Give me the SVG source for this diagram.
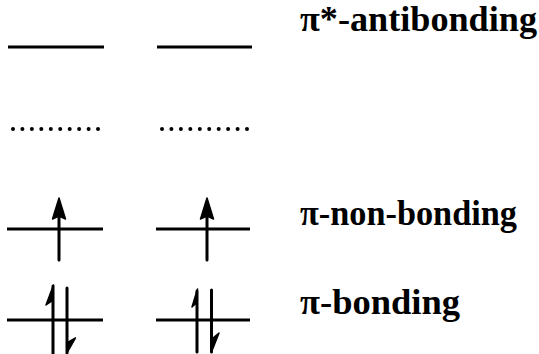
<svg xmlns="http://www.w3.org/2000/svg" width="539" height="354" viewBox="0 0 539 354">
<style>
.lvl{stroke:#000;stroke-width:3;fill:none}
.shaft{stroke:#000;stroke-width:3;fill:none;stroke-linecap:round}
.head{fill:#000;stroke:#000;stroke-width:1.5;stroke-linejoin:round}
.dot{fill:#000}
.lbl{font-family:"Liberation Serif","Times New Roman",serif;font-weight:bold;font-size:35px;fill:#000}
</style>
<defs>
<g id="dots">
<circle class="dot" cx="0" cy="0" r="2"/><circle class="dot" cx="9.4" cy="0" r="2"/><circle class="dot" cx="18.9" cy="0" r="2"/><circle class="dot" cx="28.3" cy="0" r="2"/><circle class="dot" cx="37.8" cy="0" r="2"/><circle class="dot" cx="47.2" cy="0" r="2"/><circle class="dot" cx="56.7" cy="0" r="2"/><circle class="dot" cx="66.1" cy="0" r="2"/><circle class="dot" cx="75.6" cy="0" r="2"/><circle class="dot" cx="85" cy="0" r="2"/>
</g>
</defs>
<g id="antibonding">
<line class="lvl" x1="8" y1="47" x2="104" y2="47"/>
<line class="lvl" x1="157" y1="47" x2="252" y2="47"/>
<text class="lbl" x="300" y="31" textLength="237" lengthAdjust="spacingAndGlyphs">π*-antibonding</text>
</g>
<g id="dotted-levels">
<use href="#dots" x="13" y="129"/>
<use href="#dots" x="162" y="129"/>
</g>
<g id="nonbonding">
<line class="lvl" x1="7" y1="229" x2="103" y2="229"/>
<line class="lvl" x1="156" y1="229" x2="250" y2="229"/>
<text class="lbl" x="300" y="225" textLength="217" lengthAdjust="spacingAndGlyphs">π-non-bonding</text>
</g>
<g id="bonding">
<line class="lvl" x1="7" y1="320" x2="103" y2="320"/>
<line class="lvl" x1="156" y1="320" x2="250" y2="320"/>
<text class="lbl" x="300" y="314" textLength="160" lengthAdjust="spacingAndGlyphs">π-bonding</text>
</g>
<g id="connectors">
<line class="shaft" x1="59" y1="212" x2="59" y2="260"/>
<path class="head" d="M59,198 L65.5,219 L59,216 L52.5,219 Z"/>
<line class="shaft" x1="207" y1="212" x2="207" y2="260"/>
<path class="head" d="M207,198 L213.5,219 L207,216 L200.5,219 Z"/>
<line class="shaft" x1="53" y1="286" x2="53" y2="354"/>
<path class="head" d="M53.5,285 L46,305 L52,301 Z"/>
<line class="shaft" x1="67" y1="288" x2="67" y2="353"/>
<path class="head" d="M67,353 L75.5,338 L68.5,342 Z"/>
<line class="shaft" x1="197" y1="291" x2="197" y2="352"/>
<path class="head" d="M197.5,289 L192,307 L196.5,303 Z"/>
<line class="shaft" x1="211.5" y1="290" x2="211.5" y2="352"/>
<path class="head" d="M211.5,352 L219,333 L213,338 Z"/>
</g>
</svg>
